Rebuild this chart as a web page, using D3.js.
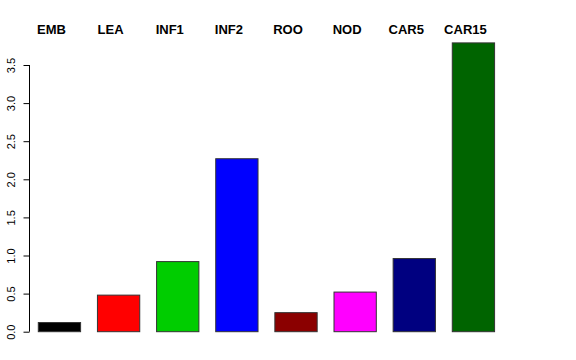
<!DOCTYPE html>
<html><head><meta charset="utf-8">
<script src="https://cdn.jsdelivr.net/npm/d3@7"></script>
<style>body{margin:0;background:#fff}svg{display:block}</style>
</head><body>
<script>
const categories = ["EMB","LEA","INF1","INF2","ROO","NOD","CAR5","CAR15"];
const values = [0.12, 0.48, 0.92, 2.27, 0.25, 0.52, 0.96, 3.79];
const colors = ["#000000","#FF0000","#00CD00","#0000FF","#8B0000","#FF00FF","#000080","#006400"];
const yTicks = [0, 0.5, 1, 1.5, 2, 2.5, 3, 3.5];

const W = 576, H = 360;
const svg = d3.select("body").append("svg").attr("width", W).attr("height", H);

const y = d3.scaleLinear().domain([0, 3.5]).range([331.7, 65]);
const step = 59.14, x0 = 38.3, bw = 42.3;
const x = d3.scaleLinear().domain([0, 1]).range([x0, x0 + step]);

svg.selectAll("rect.bar").data(values).enter().append("rect")
  .attr("class","bar")
  .attr("x", (d,i) => x(i))
  .attr("width", bw)
  .attr("y", d => y(d))
  .attr("height", d => y(0) - y(d))
  .attr("fill", (d,i) => colors[i])
  .attr("stroke", "#333")
  .attr("stroke-width", 1);

svg.selectAll("text.cat").data(categories).enter().append("text")
  .attr("class","cat")
  .attr("x", (d,i) => x(i) + bw/2 - 8)
  .attr("y", 34)
  .attr("text-anchor","middle")
  .attr("font-family","Liberation Sans, Arial, sans-serif")
  .attr("font-weight","bold")
  .attr("font-size","13px")
  .text(d => d);

const axis = d3.axisLeft(y).tickValues(yTicks).tickFormat(d3.format(".1f")).tickSize(6).tickPadding(5);
const g = svg.append("g").attr("transform","translate(29.5,0)").call(axis);
g.selectAll(".domain").attr("d", `M0,${y(0)}V${y(3.5)}`).attr("stroke","#000");
g.selectAll(".tick line").attr("stroke","#000");
g.selectAll(".tick text")
  .attr("font-family","Liberation Sans, Arial, sans-serif")
  .attr("font-size","11px")
  .attr("fill","#000")
  .attr("text-anchor","middle")
  .attr("dy", null)
  .attr("x", null)
  .attr("transform", "translate(-15,0) rotate(-90)")
  .attr("y", 0);
</script>
</body></html>
